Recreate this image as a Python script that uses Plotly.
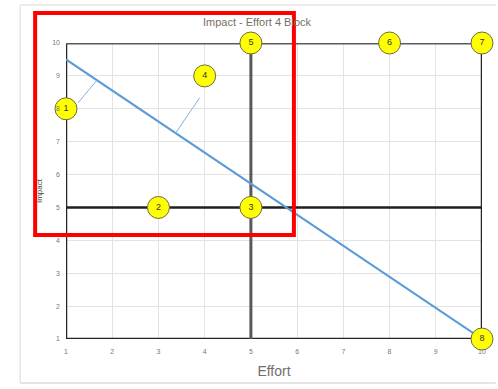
import plotly.graph_objects as go

# Labelled items on the impact / effort grid
item_labels = ["1", "2", "3", "4", "5", "6", "7", "8"]
item_effort = [1, 3, 5, 4, 5, 8, 10, 10]
item_impact = [8, 5, 5, 9, 10, 10, 10, 1]

# Trend line across the grid
trend_effort = [1, 10]
trend_impact = [9.5, 1]

# Leader lines from labels 1 and 4 to the trend line
leader1_effort = [1.26, 1.67]
leader1_impact = [8.18, 8.87]
leader4_effort = [3.89, 3.37]
leader4_impact = [8.33, 7.26]

# Block frame and quadrant dividers
frame_top_x, frame_top_y = [1, 10], [10, 10]
frame_sides_x, frame_sides_y = [1, 1, 10, 10], [10, 1, 1, 10]
mid_vert_x, mid_vert_y = [5, 5], [1, 10]
mid_horiz_x, mid_horiz_y = [1, 10], [5, 5]

tick_vals = list(range(1, 11))
tick_text = [str(v) for v in tick_vals]

W, H = 498, 389
ML, MR, MT, MB = 66, 14, 43, 50
PW, PH = W - ML - MR, H - MT - MB


def px_to_paper(px, py):
    return (px - ML) / PW, (H - MB - py) / PH


fig = go.Figure()

fig.add_trace(go.Scatter(x=frame_sides_x, y=frame_sides_y, mode="lines",
                         line=dict(color="#262626", width=2.5), hoverinfo="skip"))
fig.add_trace(go.Scatter(x=frame_top_x, y=frame_top_y, mode="lines",
                         line=dict(color="#5a5a5a", width=3), hoverinfo="skip"))
fig.add_trace(go.Scatter(x=mid_vert_x, y=mid_vert_y, mode="lines",
                         line=dict(color="#595959", width=3), hoverinfo="skip"))
fig.add_trace(go.Scatter(x=mid_horiz_x, y=mid_horiz_y, mode="lines",
                         line=dict(color="#1f1f1f", width=2.5), hoverinfo="skip"))
fig.add_trace(go.Scatter(x=trend_effort, y=trend_impact, mode="lines",
                         line=dict(color="#5b9bd5", width=2), hoverinfo="skip"))
for lx, ly in [(leader1_effort, leader1_impact), (leader4_effort, leader4_impact)]:
    fig.add_trace(go.Scatter(x=lx, y=ly, mode="lines",
                             line=dict(color="#7fb2e0", width=1), hoverinfo="skip"))

fig.add_trace(go.Scatter(
    x=item_effort, y=item_impact, mode="markers+text",
    text=item_labels, textposition="middle center",
    textfont=dict(family="Liberation Sans, Arial", size=9, color="#333333"),
    marker=dict(size=22, color="#ffff00",
                line=dict(color="#6b6b4a", width=1)),
    cliponaxis=False, hoverinfo="skip"))

axis_common = dict(
    range=[1, 10], tickmode="array", tickvals=tick_vals, ticktext=tick_text,
    showgrid=True, gridcolor="#e3e3e3", gridwidth=1, zeroline=False,
    showline=False, ticks="",
    tickfont=dict(family="Liberation Sans, Arial", size=7, color="#8a7560"),
)

fig.update_xaxes(**axis_common, ticklabelstandoff=7,
                 title=dict(text="Effort", standoff=12,
                            font=dict(family="Liberation Sans, Arial", size=14, color="#6f6f6f")))
fig.update_yaxes(**axis_common, ticklabelstandoff=5,
                 title=dict(text="Impact", standoff=8,
                            font=dict(family="Liberation Sans, Arial", size=8, color="#404040")))

# Red highlight box over the upper-left block
rx0, ry1 = px_to_paper(35, 13)
rx1, ry0 = px_to_paper(295, 235)

# Surrounding sheet frame lines
fx0, fy_top = px_to_paper(20, 5)
fx1, fy_bot = px_to_paper(498, 383)

shapes = [
    dict(type="line", xref="paper", yref="paper", x0=fx0, x1=fx1, y0=fy_top, y1=fy_top,
         line=dict(color="#e6e6e6", width=1.5), layer="below"),
    dict(type="line", xref="paper", yref="paper", x0=fx0, x1=fx0, y0=fy_top, y1=fy_bot,
         line=dict(color="#e6e6e6", width=1.5), layer="below"),
    dict(type="line", xref="paper", yref="paper", x0=fx0, x1=fx1, y0=fy_bot, y1=fy_bot,
         line=dict(color="#dcdcdc", width=1.5), layer="below"),
    dict(type="rect", xref="paper", yref="paper", x0=rx0, x1=rx1, y0=ry0, y1=ry1,
         line=dict(color="#ff0000", width=4), fillcolor="rgba(0,0,0,0)", layer="above"),
]

tx, ty = px_to_paper(258, 22)
fig.update_layout(
    width=W, height=H,
    margin=dict(l=ML, r=MR, t=MT, b=MB),
    paper_bgcolor="white", plot_bgcolor="white",
    showlegend=False,
    shapes=shapes,
    annotations=[dict(text="Impact - Effort 4 Block", xref="paper", yref="paper",
                      x=tx, y=ty, showarrow=False, xanchor="center", yanchor="middle",
                      font=dict(family="Liberation Sans, Arial", size=11, color="#7a6f66"))],
)

fig.write_html("out.html")
